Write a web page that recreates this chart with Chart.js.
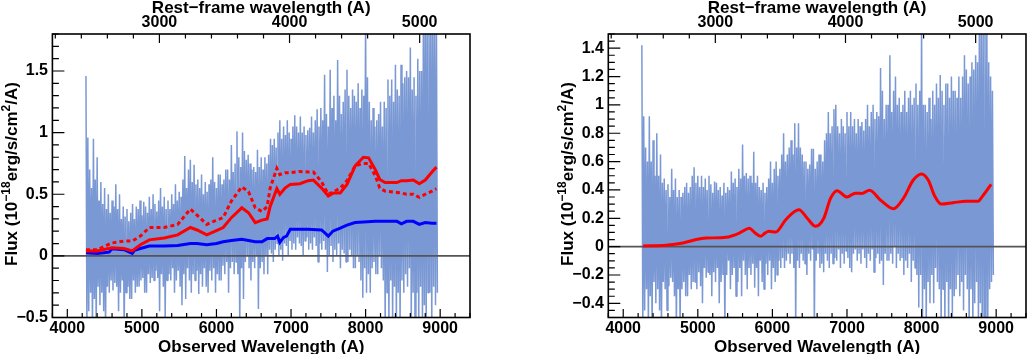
<!DOCTYPE html>
<html>
<head>
<meta charset="utf-8">
<script src="https://cdn.jsdelivr.net/npm/chart.js@4"></script>
<style>
  html, body { margin: 0; padding: 0; background: #fff; }
  #wrap { position: relative; width: 1028px; height: 354px; overflow: hidden; }
  canvas { position: absolute; top: 0; }
  #left { left: 0; }
  #right { left: 514px; }
</style>
</head>
<body>
<div id="wrap">
  <canvas id="left" width="514" height="354"></canvas>
  <canvas id="right" width="514" height="354"></canvas>
</div>
<script>
// ---------------------
// Data
// ---------------------
const onePlusZ = 1.745;          // observed / rest-frame wavelength
const specStart = 4250;          // first spectrum sample (A)
const specStep = 25;             // one high + one low value per step

// left panel spectrum: upper and lower excursions every 25 A
const specHiL = [
  1.46, 0.96, 0.70, 0.55,  // 4250
  0.95, 0.62, 0.80, 0.45,  // 4350
  0.60, 0.42, 0.55, 0.38,  // 4450
  0.50, 0.35, 0.45, 0.40,  // 4550
  0.58, 0.38, 0.50, 0.30,  // 4650
  0.40, 0.32, 0.38, 0.28,  // 4750
  0.35, 0.42, 0.30, 0.40,  // 4850
  0.38, 0.45, 0.33, 0.44,  // 4950
  0.40, 0.35, 0.48, 0.38,  // 5050
  0.50, 0.42, 0.36, 0.45,  // 5150
  0.55, 0.40, 0.48, 0.38,  // 5250
  0.45, 0.38, 0.50, 0.42,  // 5350
  0.58, 0.45, 0.52, 0.48,  // 5450
  0.62, 0.81, 0.55, 0.70,  // 5550
  0.78, 0.60, 0.74, 0.58,  // 5650
  0.62, 0.55, 0.66, 0.50,  // 5750
  0.60, 0.52, 0.58, 0.62,  // 5850
  0.80, 0.60, 0.55, 0.66,  // 5950
  0.66, 0.58, 0.62, 0.70,  // 6050
  0.70, 0.62, 0.90, 0.68,  // 6150
  0.75, 1.01, 0.80, 0.72,  // 6250
  1.00, 0.85, 0.78, 0.82,  // 6350
  0.75, 0.70, 0.72, 0.68,  // 6450
  0.86, 0.72, 0.80, 0.70,  // 6550
  0.80, 0.75, 0.82, 0.95,  // 6650
  0.90, 0.95, 0.88, 1.00,  // 6750
  1.10, 0.95, 1.05, 0.98,  // 6850
  1.10, 1.00, 0.95, 1.05,  // 6950
  1.14, 1.05, 1.00, 1.13,  // 7050
  1.00, 1.05, 0.98, 1.02,  // 7150
  1.04, 1.13, 1.00, 1.10,  // 7250
  1.19, 1.05, 1.20, 1.10,  // 7350
  1.47, 1.15, 1.05, 1.51,  // 7450
  1.20, 1.30, 1.10, 1.59,  // 7550
  1.30, 1.15, 1.25, 1.35,  // 7650
  1.51, 1.30, 1.20, 1.35,  // 7750
  1.30, 1.25, 1.40, 1.20,  // 7850
  1.35, 1.30, 2.00, 1.45,  // 7950
  1.25, 1.10, 1.20, 1.05,  // 8050
  1.10, 1.15, 1.25, 1.05,  // 8150
  1.25, 1.20, 1.43, 1.30,  // 8250
  1.43, 1.25, 1.55, 1.35,  // 8350
  1.30, 1.55, 1.40, 1.45,  // 8450
  1.50, 1.45, 1.69, 1.35,  // 8550
  1.45, 1.30, 1.60, 1.50,  // 8650
  1.50, 2.00, 2.00, 2.00,  // 8750
  2.00, 2.00, 2.00, 1.90,  // 8850
  1.90                     // 8950
];
const specLoL = [
  -0.60, -0.45, -0.30, -0.60,  // 4250
  -0.35, -0.60, -0.25, -0.40,  // 4350
  -0.30, -0.45, -0.60, -0.25,  // 4450
  -0.30, -0.20, -0.28, -0.22,  // 4550
  -0.25, -0.45, -0.30, -0.20,  // 4650
  -0.60, -0.30, -0.25, -0.35,  // 4750
  -0.35, -0.20, -0.30, -0.25,  // 4850
  -0.25, -0.20, -0.18, -0.30,  // 4950
  -0.30, -0.15, -0.22, -0.18,  // 5050
  -0.20, -0.12, -0.18, -0.45,  // 5150
  -0.15, -0.25, -0.50, -0.20,  // 5250
  -0.15, -0.20, -0.10, -0.30,  // 5350
  -0.20, -0.12, -0.25, -0.40,  // 5450
  -0.15, -0.35, -0.10, -0.20,  // 5550
  -0.30, -0.15, -0.20, -0.12,  // 5650
  -0.31, -0.15, -0.25, -0.10,  // 5750
  -0.25, -0.30, -0.12, -0.20,  // 5850
  -0.10, -0.30, -0.15, -0.20,  // 5950
  -0.20, -0.08, -0.15, -0.05,  // 6050
  -0.30, -0.10, -0.05, -0.15,  // 6150
  -0.05, -0.15, -0.60, -0.10,  // 6250
  -0.35, -0.05,  0.00, -0.10,  // 6350
  -0.20, -0.05, -0.10,  0.00,  // 6450
  -0.43, -0.10, -0.05, -0.15,  // 6550
   0.00, -0.15,  0.05,  0.02,  // 6650
  -0.05,  0.05,  0.10,  0.00,  // 6750
   0.05, -0.04,  0.10,  0.08,  // 6850
   0.00,  0.12,  0.05,  0.10,  // 6950
   0.05,  0.15,  0.10,  0.08,  // 7050
   0.00,  0.12,  0.15,  0.05,  // 7150
   0.10,  0.05,  0.15,  0.08,  // 7250
  -0.05,  0.10,  0.05,  0.12,  // 7350
   0.05, -0.13,  0.00,  0.08,  // 7450
  -0.05,  0.05,  0.00,  0.10,  // 7550
  -0.10,  0.05,  0.02, -0.05,  // 7650
  -0.05,  0.05,  0.00, -0.10,  // 7750
  -0.10,  0.00, -0.05, -0.20,  // 7850
  -0.34, -0.10, -0.30, -0.15,  // 7950
  -0.30, -0.10, -0.05, -0.15,  // 8050
  -0.15,  0.00, -0.10, -0.20,  // 8150
  -0.60, -0.30, -0.60, -0.20,  // 8250
  -0.60, -0.25, -0.60, -0.30,  // 8350
  -0.60, -0.20, -0.30, -0.15,  // 8450
  -0.25, -0.10, -0.60, -0.30,  // 8550
  -0.60, -0.30, -0.60, -0.25,  // 8650
  -0.60, -0.40, -0.60, -0.30,  // 8750
  -0.30, -0.60, -0.25, -0.40,  // 8850
  -0.30                        // 8950
];

// right panel spectrum
const specHiR = [
  1.42, 0.92, 0.70, 0.60,  // 4250
  0.92, 0.60, 0.75, 0.50,  // 4350
  0.80, 0.50, 0.65, 0.45,  // 4450
  0.48, 0.40, 0.44, 0.35,  // 4550
  0.55, 0.40, 0.48, 0.35,  // 4650
  0.40, 0.35, 0.38, 0.42,  // 4750
  0.45, 0.38, 0.42, 0.50,  // 4850
  0.56, 0.45, 0.50, 0.42,  // 4950
  0.50, 0.42, 0.48, 0.40,  // 5050
  0.50, 0.44, 0.38, 0.46,  // 5150
  0.45, 0.40, 0.42, 0.36,  // 5250
  0.45, 0.38, 0.42, 0.40,  // 5350
  0.53, 0.45, 0.48, 0.42,  // 5450
  0.55, 0.48, 0.72, 0.50,  // 5550
  0.52, 0.48, 0.50, 0.45,  // 5650
  0.67, 0.45, 0.50, 0.42,  // 5750
  0.40, 0.45, 0.38, 0.42,  // 5850
  0.48, 0.60, 0.45, 0.55,  // 5950
  0.60, 0.50, 0.55, 0.65,  // 6050
  0.80, 0.60, 0.65, 0.70,  // 6150
  0.75, 0.65, 0.87, 0.70,  // 6250
  0.87, 0.70, 0.65, 0.60,  // 6350
  0.60, 0.55, 0.58, 0.69,  // 6450
  0.69, 0.55, 0.60, 0.65,  // 6550
  0.65, 0.60, 0.75, 0.80,  // 6650
  0.95, 0.80, 0.85, 0.97,  // 6750
  1.00, 0.85, 0.80, 0.90,  // 6850
  0.85, 0.80, 0.95, 0.85,  // 6950
  0.95, 0.85, 0.90, 0.80,  // 7050
  0.90, 0.85, 0.88, 0.82,  // 7150
  0.90, 1.00, 0.85, 0.95,  // 7250
  1.00, 0.90, 0.95, 0.92,  // 7350
  1.26, 1.10, 0.90, 1.00,  // 7450
  1.00, 1.35, 0.95, 1.10,  // 7550
  1.20, 1.00, 1.05, 0.95,  // 7650
  1.00, 1.10, 0.95, 1.05,  // 7750
  1.10, 1.00, 1.05, 1.15,  // 7850
  1.00, 1.10, 1.60, 1.00,  // 7950
  1.00, 0.95, 1.05, 0.90,  // 8050
  1.10, 1.00, 1.15, 1.05,  // 8150
  1.21, 1.10, 1.00, 1.15,  // 8250
  1.15, 1.05, 1.20, 1.10,  // 8350
  1.10, 1.05, 1.20, 1.05,  // 8450
  1.20, 1.35, 1.25, 1.15,  // 8550
  1.20, 1.30, 1.25, 1.35,  // 8650
  1.30, 1.60, 1.60, 1.60,  // 8750
  1.60, 1.60, 1.30, 1.20,  // 8850
  1.10                     // 8950
];
const specLoR = [
  -0.60, -0.45, -0.30, -0.60,  // 4250
  -0.35, -0.60, -0.25, -0.40,  // 4350
  -0.30, -0.45, -0.60, -0.25,  // 4450
  -0.30, -0.45, -0.28, -0.22,  // 4550
  -0.25, -0.35, -0.60, -0.30,  // 4650
  -0.60, -0.30, -0.25, -0.35,  // 4750
  -0.35, -0.20, -0.30, -0.25,  // 4850
  -0.25, -0.30, -0.18, -0.28,  // 4950
  -0.40, -0.15, -0.22, -0.18,  // 5050
  -0.20, -0.35, -0.18, -0.25,  // 5150
  -0.15, -0.40, -0.25, -0.20,  // 5250
  -0.60, -0.20, -0.10, -0.30,  // 5350
  -0.20, -0.15, -0.35, -0.25,  // 5450
  -0.15, -0.35, -0.10, -0.20,  // 5550
  -0.30, -0.15, -0.20, -0.12,  // 5650
  -0.29, -0.15, -0.35, -0.10,  // 5750
  -0.25, -0.30, -0.12, -0.20,  // 5850
  -0.10, -0.30, -0.15, -0.25,  // 5950
  -0.20, -0.10, -0.15, -0.08,  // 6050
  -0.15, -0.10, -0.05, -0.12,  // 6150
  -0.05, -0.15, -0.60, -0.10,  // 6250
  -0.15, -0.05, -0.10, -0.12,  // 6350
  -0.20, -0.05, -0.10, -0.02,  // 6450
  -0.60, -0.10, -0.05, -0.15,  // 6550
  -0.12, -0.18, -0.05, -0.10,  // 6650
  -0.15, -0.05, -0.12, -0.08,  // 6750
  -0.10, -0.02, -0.15, -0.05,  // 6850
  -0.12, -0.03, -0.08, -0.15,  // 6950
  -0.18, -0.05, -0.02, -0.10,  // 7050
  -0.05, -0.12, -0.02, -0.08,  // 7150
  -0.15, -0.05, -0.10, -0.02,  // 7250
  -0.18, -0.08, -0.05, -0.12,  // 7350
  -0.10, -0.27, -0.05, -0.10,  // 7450
  -0.10, -0.05, -0.12,  0.00,  // 7550
  -0.15, -0.05, -0.10, -0.08,  // 7650
  -0.20, -0.10, -0.15, -0.05,  // 7750
  -0.25, -0.10, -0.15, -0.20,  // 7850
  -0.43, -0.20, -0.50, -0.30,  // 7950
  -0.60, -0.25, -0.40, -0.20,  // 8050
  -0.40, -0.15, -0.25, -0.30,  // 8150
  -0.60, -0.30, -0.60, -0.25,  // 8250
  -0.60, -0.30, -0.50, -0.35,  // 8350
  -0.30, -0.20, -0.35, -0.25,  // 8450
  -0.45, -0.20, -0.30, -0.60,  // 8550
  -0.30, -0.60, -0.40, -0.25,  // 8650
  -0.60, -0.40, -0.60, -0.50,  // 8750
  -0.60, -0.60, -0.30, -0.25,  // 8850
  -0.20                        // 8950
];

// left panel models (solid, dotted) share one wavelength grid
const modelWaveL = [4250, 4400, 4600, 4760, 4870, 4980, 5100, 5300, 5480, 5650, 5740, 5870, 6000, 6090, 6200, 6340,
  6430, 6520, 6610, 6680, 6720, 6810, 6850, 6920, 6990, 7120, 7230, 7300, 7410, 7500, 7570, 7660, 7750, 7860, 7970,
  8040, 8130, 8190, 8260, 8420, 8480, 8550, 8640, 8720, 8800, 8890, 8950];
const modelSolidL = [0.04, 0.04, 0.065, 0.06, 0.04, 0.09, 0.13, 0.145, 0.17, 0.23, 0.21, 0.17, 0.205, 0.23, 0.31, 0.39,
  0.35, 0.27, 0.29, 0.30, 0.40, 0.545, 0.50, 0.55, 0.58, 0.585, 0.61, 0.615, 0.55, 0.485, 0.51, 0.51, 0.58, 0.73, 0.80,
  0.795, 0.70, 0.62, 0.595, 0.595, 0.61, 0.61, 0.615, 0.585, 0.615, 0.68, 0.72];
const modelDotL = [0.05, 0.05, 0.105, 0.12, 0.12, 0.16, 0.23, 0.23, 0.255, 0.38, 0.33, 0.255, 0.29, 0.31, 0.445, 0.56,
  0.52, 0.39, 0.36, 0.40, 0.55, 0.71, 0.66, 0.675, 0.675, 0.685, 0.68, 0.68, 0.60, 0.50, 0.52, 0.55, 0.61, 0.73, 0.75,
  0.75, 0.65, 0.55, 0.525, 0.515, 0.51, 0.50, 0.50, 0.475, 0.50, 0.525, 0.545];

// left panel blue continuum
const contWave = [4250, 4400, 4560, 4600, 4760, 4870, 4900, 4980, 5100, 5300, 5480, 5650, 5740, 5870, 6000, 6090, 6200,
  6340, 6430, 6520, 6610, 6680, 6780, 6820, 6850, 6900, 6940, 6990, 7120, 7230, 7410, 7500, 7560, 7660, 7750, 7860,
  7970, 8130, 8260, 8420, 8480, 8550, 8640, 8720, 8800, 8890, 8950];
const contFlux = [0.025, 0.02, 0.03, 0.057, 0.05, 0.02, 0.045, 0.06, 0.08, 0.08, 0.085, 0.10, 0.10, 0.09, 0.10, 0.115,
  0.125, 0.135, 0.125, 0.115, 0.115, 0.14, 0.14, 0.16, 0.11, 0.15, 0.16, 0.215, 0.215, 0.215, 0.21, 0.16, 0.20, 0.225,
  0.25, 0.27, 0.275, 0.28, 0.28, 0.28, 0.26, 0.28, 0.28, 0.255, 0.27, 0.265, 0.265];

// right panel model
const modelWaveR = [4267, 4578, 4800, 4979, 5112, 5379, 5556, 5623, 5690, 5760, 5845, 5900, 5956, 6045, 6179, 6356,
  6467, 6579, 6689, 6779, 6867, 7000, 7112, 7200, 7303, 7445, 7556, 7623, 7756, 7889, 8000, 8089, 8179, 8267, 8423,
  8600, 8756, 8823, 8933];
const modelR = [0.005, 0.01, 0.026, 0.05, 0.06, 0.066, 0.096, 0.115, 0.13, 0.10, 0.073, 0.095, 0.108, 0.103, 0.19, 0.26,
  0.20, 0.143, 0.20, 0.34, 0.395, 0.35, 0.377, 0.375, 0.398, 0.33, 0.283, 0.267, 0.34, 0.47, 0.513, 0.47, 0.354, 0.30,
  0.31, 0.32, 0.32, 0.36, 0.44];

// axis labels
const obsTicks = [4000, 5000, 6000, 7000, 8000, 9000];
const restTicks = [3000, 4000, 5000];
const yTicksL = [-0.5, 0, 0.5, 1, 1.5];
const yTicksR = [-0.4, -0.2, 0, 0.2, 0.4, 0.6, 0.8, 1, 1.2, 1.4];

// ---------------------
// Helpers
// ---------------------
const FONT = "'Liberation Sans', Arial, Helvetica, sans-serif";
const tickFont = { family: FONT, size: 16, weight: 'bold' };

function zigzag(hi, lo) {
  const pts = [];
  for (let i = 0; i < hi.length; i++) {
    const w = specStart + i * specStep;
    pts.push({ x: w, y: hi[i] });
    pts.push({ x: w + specStep / 2, y: lo[i] });
  }
  return pts;
}
const pairs = (xs, ys) => xs.map((x, i) => ({ x, y: ys[i] }));
const fmt = v => (v < 0 ? '\u2212' + Math.abs(v) : String(v));

function tickMarks(scale, step, every) {
  const out = [];
  for (let k = Math.ceil(scale.min / step - 1e-6); k * step <= scale.max + 1e-6; k++) {
    out.push({ p: scale.getPixelForValue(k * step), major: k % every === 0 });
  }
  return out;
}

function drawYTitle(ctx, x, y) {
  const parts = [['Flux (10', 17, 0], ['\u221218', 12, -7], ['erg/s/cm', 17, 0], ['2', 12, -7], ['/A)', 17, 0]];
  ctx.save();
  let total = 0;
  const widths = parts.map(([t, s]) => {
    ctx.font = `bold ${s}px ${FONT}`;
    const w = ctx.measureText(t).width;
    total += w;
    return w;
  });
  ctx.translate(x, y);
  ctx.rotate(-Math.PI / 2);
  ctx.fillStyle = '#000';
  ctx.textAlign = 'left';
  ctx.textBaseline = 'alphabetic';
  let pos = -total / 2;
  parts.forEach(([t, s, dy], i) => {
    ctx.font = `bold ${s}px ${FONT}`;
    ctx.fillText(t, pos, dy);
    pos += widths[i];
  });
  ctx.restore();
}

// frame, inward ticks and titles, ROOT style
const rootFrame = {
  id: 'rootFrame',
  afterDraw(chart, args, o) {
    const { ctx, chartArea: a, scales } = chart;
    ctx.save();
    ctx.strokeStyle = '#000';
    ctx.lineWidth = 1.2;
    ctx.beginPath();
    tickMarks(scales.x, 200, 5).forEach(t => {
      ctx.moveTo(t.p, a.bottom);
      ctx.lineTo(t.p, a.bottom - (t.major ? 8.5 : 4.5));
    });
    tickMarks(scales.x2, 200, 5).forEach(t => {
      ctx.moveTo(t.p, a.top);
      ctx.lineTo(t.p, a.top + (t.major ? 9 : 4.5));
    });
    tickMarks(scales.y, o.yStep, o.yEvery).forEach(t => {
      ctx.moveTo(a.left, t.p);
      ctx.lineTo(a.left + (t.major ? 12 : 6.5), t.p);
    });
    ctx.stroke();
    ctx.lineWidth = 1.6;
    ctx.strokeRect(a.left, a.top, a.right - a.left, a.bottom - a.top);

    ctx.fillStyle = '#000';
    ctx.font = `bold 17px ${FONT}`;
    ctx.textAlign = 'center';
    ctx.textBaseline = 'alphabetic';
    const cx = (a.left + a.right) / 2;
    ctx.fillText('Rest\u2212frame wavelength (A)', cx, 13);
    ctx.fillText('Observed Wavelength (A)', cx, 352);
    ctx.restore();
    drawYTitle(ctx, o.yTitleX, 174);
  }
};

function makeChart(id, cfg) {
  return new Chart(document.getElementById(id), {
    type: 'line',
    data: { datasets: cfg.datasets },
    options: {
      responsive: false,
      animation: false,
      devicePixelRatio: 1,
      events: [],
      layout: { padding: { left: 0, right: cfg.padRight, top: 0, bottom: 0 } },
      elements: { point: { radius: 0 }, line: { tension: 0 } },
      plugins: {
        legend: { display: false },
        tooltip: { enabled: false },
        rootFrame: { yStep: cfg.yStep, yEvery: cfg.yEvery, yTitleX: cfg.yTitleX }
      },
      scales: {
        x: {
          type: 'linear', position: 'bottom', min: 3800, max: 9400, bounds: 'data',
          afterBuildTicks: s => { s.ticks = obsTicks.map(v => ({ value: v })); },
          afterFit: s => { s.height = 36.5; },
          grid: { display: false, drawTicks: false },
          border: { display: false },
          ticks: { font: tickFont, color: '#000', padding: 1.8, autoSkip: false, maxRotation: 0, callback: v => String(v) }
        },
        x2: {
          type: 'linear', position: 'top', min: 3800 / onePlusZ, max: 9400 / onePlusZ, bounds: 'data',
          afterBuildTicks: s => { s.ticks = restTicks.map(v => ({ value: v })); },
          afterFit: s => { s.height = 34; },
          grid: { display: false, drawTicks: false },
          border: { display: false },
          ticks: { font: tickFont, color: '#000', padding: 1.8, autoSkip: false, maxRotation: 0, callback: v => String(v) }
        },
        y: {
          type: 'linear', position: 'left', min: -0.5, max: cfg.yMax, bounds: 'data',
          afterBuildTicks: s => { s.ticks = cfg.yTicks.map(v => ({ value: v })); },
          afterFit: s => { s.width = cfg.yWidth; },
          grid: { display: false, drawTicks: false },
          border: { display: false },
          ticks: { font: tickFont, color: '#000', padding: 4.4, autoSkip: false, callback: v => fmt(v) }
        }
      }
    },
    plugins: [rootFrame]
  });
}

const spectrumStyle = {
  borderColor: 'rgb(122,152,212)', borderWidth: 1.5, borderJoinStyle: 'bevel',
  pointRadius: 0, order: 3
};
const zeroLine = {
  data: [{ x: 3800, y: 0 }, { x: 9400, y: 0 }],
  borderColor: '#555555', borderWidth: 1.6, pointRadius: 0, order: 2
};

makeChart('left', {
  yMax: 1.8, yTicks: yTicksL, yStep: 0.1, yEvery: 5, yWidth: 52.4, padRight: 44, yTitleX: 17,
  datasets: [
    Object.assign({ data: zigzag(specHiL, specLoL) }, spectrumStyle),
    Object.assign({}, zeroLine),
    { data: pairs(contWave, contFlux), borderColor: '#0000ff', borderWidth: 3, pointRadius: 0, order: 1 },
    { data: pairs(modelWaveL, modelDotL), borderColor: '#ff0000', borderWidth: 3, borderDash: [4, 3], pointRadius: 0, order: 1 },
    { data: pairs(modelWaveL, modelSolidL), borderColor: '#ff0000', borderWidth: 3, pointRadius: 0, order: 0 }
  ]
});

makeChart('right', {
  yMax: 1.5, yTicks: yTicksR, yStep: 0.05, yEvery: 4, yWidth: 94.3, padRight: 2, yTitleX: 59.3,
  datasets: [
    Object.assign({ data: zigzag(specHiR, specLoR) }, spectrumStyle),
    Object.assign({}, zeroLine),
    { data: pairs(modelWaveR, modelR), borderColor: '#ff0000', borderWidth: 3, pointRadius: 0,
      cubicInterpolationMode: 'monotone', order: 0 }
  ]
});
</script>
</body>
</html>
